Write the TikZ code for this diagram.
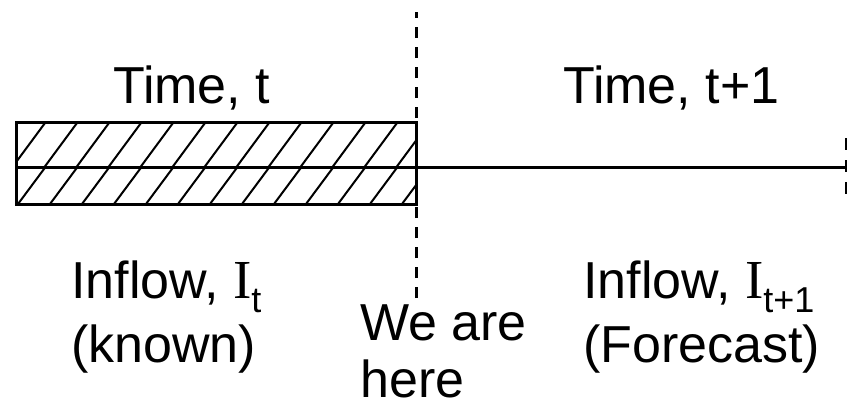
\documentclass[tikz,border=0pt]{standalone}
\usepackage{fontspec}
\setmainfont{Liberation Sans}
\newfontfamily\serifI{Liberation Serif}
\usepackage{tikz}
\usetikzlibrary{positioning,calc}
\newcommand{\inflowI}[1]{{\fontsize{55}{55}\serifI I}\raisebox{-14pt}{\fontsize{36}{36}\selectfont #1}}
\tikzset{
  lbl/.style={inner sep=0pt, anchor=base west, align=left, font=\fontsize{52}{57}\selectfont},
  hatch/.style={line width=2pt},
  nowline/.style={line width=3pt, dash pattern=on 11pt off 9pt},
}
\begin{document}
\begin{tikzpicture}[x=1pt,y=-1pt]
\useasboundingbox (0,0) rectangle (848,409);
\coordinate (past nw) at (16,123);
\coordinate (past se) at (416,204);
\coordinate (mid w) at (16,167);
\coordinate (mid e) at (416,167);
\coordinate (now top) at (416,12);
\coordinate (now bot) at (416,298);
\coordinate (future e) at (846,167);
\coordinate (tick top) at (846,138);
\coordinate (tick bot) at (846,197);
\begin{scope}
\clip (past nw) rectangle (mid e);
\foreach \k in {0,...,12} \draw[hatch] (12.5+32*\k,167) -- (45+32*\k,123);
\end{scope}
\begin{scope}
\clip (mid w) rectangle (past se);
\foreach \k in {0,...,12} \draw[hatch] (18+32*\k,204) -- (45.5+32*\k,167);
\end{scope}
\draw[line width=3pt] (past nw) rectangle (past se);
\draw[line width=3pt] (mid w) -- (mid e) -- (future e);
\draw[nowline] (now bot) -- (now top);
\draw[line width=2pt, dash pattern=on 12pt off 10pt] (tick top) -- (tick bot);
\node[lbl] (time t) at (113,103) {Time, t};
\node[lbl] (time t1) at (563,103) {Time, t+1};
\node[lbl] (inflow t) at (71,362) {Inflow, \inflowI{t}\\[7pt](known)};
\node[lbl] (inflow t1) at (583,362) {Inflow, \inflowI{t+1}\\[7pt](Forecast)};
\node[lbl] (here) at (360,397) {We are\\here};
\end{tikzpicture}
\end{document}
